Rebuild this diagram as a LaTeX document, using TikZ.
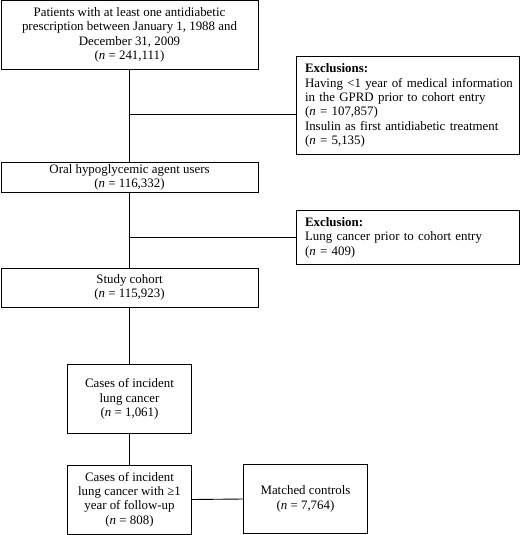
\documentclass[tikz,border=0pt]{standalone}
\usepackage{fontspec}
\setmainfont{Liberation Serif}
\usetikzlibrary{calc,positioning}

\begin{document}
\begin{tikzpicture}[x=1pt, y=-1pt, line width=0.9pt,
  box/.style={draw=black, inner sep=0pt, align=center, font=\fontsize{12.9}{14.4}\selectfont},
  exbox/.style={box, align=left, text width=205pt, inner xsep=9pt}]
  \useasboundingbox (0,0) rectangle (520,535);

  \node[box, minimum width=257pt, minimum height=69pt](Pat) at (129.5,35){Patients with at least one antidiabetic\\prescription between January 1, 1988 and\\December 31, 2009\\(\textit{n} = 241,111)};
  \node[exbox, minimum height=98pt](Excl) at (407.5,105.5){\textbf{Exclusions:}\\\mbox{Having <1 year of medical information}\\in the GPRD prior to cohort entry\\(\textit{n} = 107,857)\\Insulin as first antidiabetic treatment\\(\textit{n} = 5,135)};
  \node[box, minimum width=257pt, minimum height=30pt](Oral) at (129.5,177.5){Oral hypoglycemic agent users\\(\textit{n} = 116,332)};
  \node[exbox, minimum height=54pt](ExclLung) at (407.5,237.5){\textbf{Exclusion:}\\Lung cancer prior to cohort entry\\(\textit{n} = 409)};
  \node[box, minimum width=257pt, minimum height=39pt](Study) at (129.5,287.5){Study cohort\\(\textit{n} = 115,923)};
  \node[box, minimum width=124pt, minimum height=69pt](Cases) at (129.5,399){Cases of incident\\lung cancer\\(\textit{n} = 1,061)};
  \node[box, minimum width=124pt, minimum height=69pt](CasesFU) at (129.5,499.5){Cases of incident\\lung cancer with ≥1\\year of follow-up\\(\textit{n} = 808)};
  \node[box, minimum width=124pt, minimum height=69pt](Ctrl) at (305.5,499){Matched controls\\(\textit{n} = 7,764)};

  \coordinate (B1) at (Pat.south |- 0,114.5);
  \coordinate (B2) at (Pat.south |- ExclLung.west);

  \draw (Pat.south) -- (Oral.north);
  \draw (B1) -- (B1 -| Excl.west);
  \draw (Oral.south) -- (Study.north);
  \draw (B2) -- (ExclLung.west);
  \draw (Study.south) -- (Cases.north);
  \draw (Cases.south) -- (CasesFU.north);
  \draw (CasesFU.east) -- (Ctrl.west);
\end{tikzpicture}
\end{document}
